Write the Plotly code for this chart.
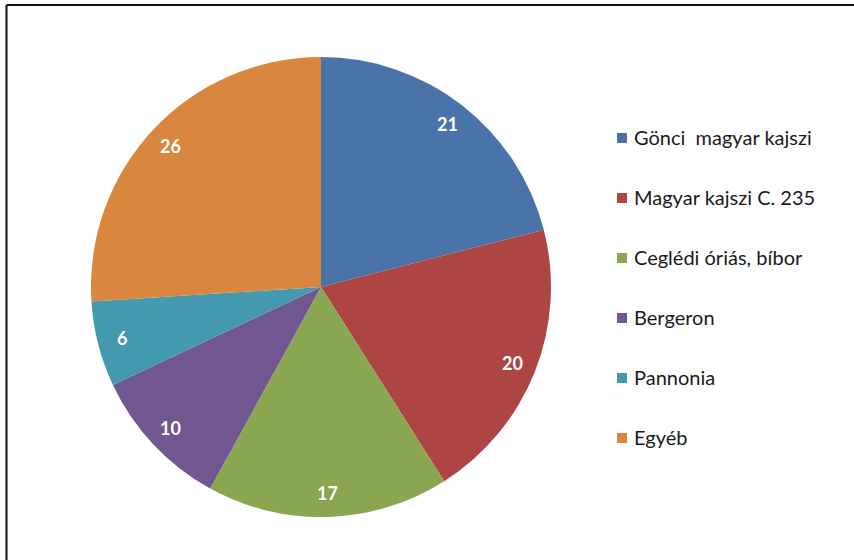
import math
import plotly.graph_objects as go

# Apricot variety shares (%)
labels = ["Gönci  magyar kajszi", "Magyar kajszi C. 235", "Ceglédi óriás, bíbor",
          "Bergeron", "Pannonia", "Egyéb"]
values = [21, 20, 17, 10, 6, 26]
colors = ["#4A74A9", "#AD4643", "#8AA650", "#715790", "#4499AF", "#D9863F"]

W, H = 854, 560
cx, cy, R = 321, 287, 230  # pie centre and radius in pixels

fig = go.Figure()
fig.add_trace(go.Pie(
    labels=labels, values=values, sort=False, direction="clockwise", rotation=0,
    marker=dict(colors=colors, line=dict(width=0)),
    textinfo="none", hoverinfo="label+value", showlegend=False,
    domain=dict(x=[(cx - R) / W, (cx + R) / W], y=[1 - (cy + R) / H, 1 - (cy - R) / H]),
))

# value labels placed along each slice's mid-angle
annotations = []
total = sum(values)
acc = 0
for v in values:
    mid = (acc + v / 2) / total * 2 * math.pi
    acc += v
    r = 0.895 * R
    px = cx + r * math.sin(mid)
    py = cy - r * math.cos(mid)
    annotations.append(dict(
        x=px / W, y=1 - py / H, xref="paper", yref="paper", text=f"<b>{v}</b>",
        showarrow=False, font=dict(family="Lato", size=18, color="white"),
        xanchor="center", yanchor="middle"))

# legend drawn as swatches plus text
shapes = []
for i, (lab, col) in enumerate(zip(labels, colors)):
    ly = 138 + 60 * i
    shapes.append(dict(type="rect", xref="paper", yref="paper",
                       x0=617 / W, x1=627 / W, y0=1 - (ly + 5) / H, y1=1 - (ly - 5) / H,
                       fillcolor=col, line=dict(width=0)))
    annotations.append(dict(
        x=632 / W, y=1 - (ly - 1) / H, xref="paper", yref="paper", text=lab,
        showarrow=False, xanchor="left", yanchor="middle",
        font=dict(family="Lato", size=20, color="#1a1a1a")))

# chart frame (top and left edges)
shapes.append(dict(type="line", xref="paper", yref="paper", x0=6.5 / W, x1=1, y0=1 - 5 / H, y1=1 - 5 / H,
                   line=dict(color="#111111", width=2)))
shapes.append(dict(type="line", xref="paper", yref="paper", x0=6.5 / W, x1=6.5 / W, y0=0, y1=1 - 5 / H,
                   line=dict(color="#111111", width=2)))

fig.update_layout(
    width=W, height=H, margin=dict(l=0, r=0, t=0, b=0),
    paper_bgcolor="white", plot_bgcolor="white",
    annotations=annotations, shapes=shapes,
)
fig.write_html("out.html")
